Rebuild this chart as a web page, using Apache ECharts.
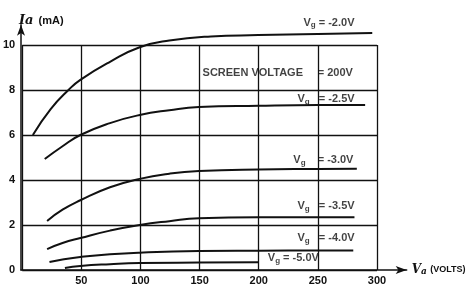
<!DOCTYPE html>
<html>
<head>
<meta charset="utf-8">
<script src="https://cdn.jsdelivr.net/npm/echarts@6/dist/echarts.min.js"></script>
<style>
  html, body { margin: 0; padding: 0; background: #fff; }
  #chart { width: 475px; height: 286px; }
</style>
</head>
<body>
<div id="chart"></div>
<script>
// anode current Ia (mA) against anode voltage Va (V), one curve per grid bias
var vg20 = [[10, 6.0], [25, 7.15], [40, 8.0], [50, 8.45], [75, 9.25], [100, 9.9], [125, 10.2], [160, 10.38], [200, 10.44], [250, 10.49], [296, 10.53]];
var vg25 = [[20, 4.93], [35, 5.5], [50, 6.0], [75, 6.53], [100, 6.89], [125, 7.1], [150, 7.24], [200, 7.3], [250, 7.33], [290, 7.33]];
var vg30 = [[22, 2.18], [35, 2.68], [50, 3.1], [75, 3.68], [100, 4.05], [125, 4.28], [150, 4.4], [200, 4.47], [250, 4.49], [283, 4.5]];
var vg35 = [[22, 0.93], [35, 1.2], [50, 1.42], [75, 1.75], [100, 2.0], [125, 2.17], [150, 2.3], [200, 2.35], [250, 2.35], [281, 2.35]];
var vg40 = [[24, 0.36], [35, 0.47], [50, 0.58], [75, 0.7], [100, 0.77], [150, 0.84], [200, 0.86], [250, 0.87], [280, 0.87]];
var vg50 = [[37, 0.09], [50, 0.18], [75, 0.26], [100, 0.31], [150, 0.33], [200, 0.34]];

var xTicks = [0, 50, 100, 150, 200, 250, 300];
var yTicks = [0, 2, 4, 6, 8, 10];

// text notes, [Va, Ia, text]
var notes = [
  [238, 11.0, '{v|V}{g|g} = -2.0V'],
  [233, 7.6, '{v|V}{g|g}'],
  [251, 7.6, '= -2.5V'],
  [229.5, 4.87, '{v|V}{g|g}'],
  [250, 4.87, '= -3.0V'],
  [233, 2.84, '{v|V}{g|g}'],
  [251, 2.84, '= -3.5V'],
  [233, 1.42, '{v|V}{g|g}'],
  [251, 1.42, '= -4.0V'],
  [208, 0.53, '{v|V}{g|g} = -5.0V'],
  [153, 8.76, 'SCREEN VOLTAGE'],
  [250, 8.76, '= 200V']
];

var L = 21, B = 16, W = 475, H = 286;
var pxV = 356 / 300, pxA = 22.5;
var xMax2 = 325, yMax2 = 10.9;

var font = '"Liberation Sans", Arial, sans-serif';
var ink = '#111';

var chart = echarts.init(document.getElementById('chart'));

var curves = [vg20, vg25, vg30, vg35, vg40, vg50].map(function (d) {
  return {
    type: 'line', xAxisIndex: 1, yAxisIndex: 1, data: d,
    smooth: true, showSymbol: false, silent: true,
    lineStyle: { color: ink, width: 2 }
  };
});

chart.setOption({
  animation: false,
  title: {
    text: '{i|Ia} {m|(mA)}',
    left: 14, top: 7,
    textStyle: {
      rich: {
        i: { fontFamily: '"DejaVu Serif", serif', fontStyle: 'italic', fontWeight: 'bold', fontSize: 13, color: ink },
        m: { fontFamily: font, fontWeight: 'bold', fontSize: 11, color: ink }
      }
    }
  },
  grid: [
    { left: L, bottom: B, right: W - (L + 300 * pxV), top: H - B - 10 * pxA },
    { left: L, bottom: B, right: W - (L + xMax2 * pxV), top: H - B - yMax2 * pxA }
  ],
  xAxis: [
    {
      gridIndex: 0, type: 'value', min: 0, max: 300, interval: 50,
      axisLine: { show: false }, axisTick: { show: false },
      splitLine: { show: true, lineStyle: { color: ink, width: 1.3 } },
      axisLabel: {
        margin: 5, color: ink, fontFamily: font, fontWeight: 'bold', fontSize: 11,
        formatter: function (v) { return v === 0 ? '' : v; }
      }
    },
    {
      gridIndex: 1, type: 'value', min: 0, max: xMax2,
      axisLine: { show: true, symbol: ['none', 'arrow'], symbolSize: [6, 11], lineStyle: { color: ink, width: 1.5 } },
      axisTick: { show: false }, axisLabel: { show: false }, splitLine: { show: false },
      name: '{i|V}{a|a} {m|(VOLTS)}', nameLocation: 'end', nameGap: 5,
      nameTextStyle: {
        rich: {
          i: { fontFamily: '"DejaVu Serif", serif', fontStyle: 'italic', fontWeight: 'bold', fontSize: 12, color: ink },
          a: { fontFamily: '"DejaVu Serif", serif', fontStyle: 'italic', fontWeight: 'bold', fontSize: 9, color: ink, padding: [4, 0, 0, 0] },
          m: { fontFamily: font, fontWeight: 'bold', fontSize: 9, color: ink }
        }
      }
    }
  ],
  yAxis: [
    {
      gridIndex: 0, type: 'value', min: 0, max: 10, interval: 2,
      axisLine: { show: false }, axisTick: { show: false },
      splitLine: { show: true, lineStyle: { color: ink, width: 1.3 } },
      axisLabel: { margin: 7, color: ink, fontFamily: font, fontWeight: 'bold', fontSize: 11 }
    },
    {
      gridIndex: 1, type: 'value', min: 0, max: yMax2,
      axisLine: { show: true, symbol: ['none', 'arrow'], symbolSize: [6, 11], lineStyle: { color: ink, width: 1.5 } },
      axisTick: { show: false }, axisLabel: { show: false }, splitLine: { show: false }
    }
  ],
  series: curves.concat([{
    type: 'scatter', xAxisIndex: 1, yAxisIndex: 1, clip: false, silent: true,
    symbolSize: 0, data: notes,
    label: {
      show: true, position: 'right', distance: 0,
      formatter: function (p) { return p.value[2]; },
      color: ink, fontFamily: font, fontWeight: 'bold', fontSize: 11,
      rich: {
        v: { fontFamily: font, fontWeight: 'bold', fontSize: 11, color: ink },
        g: { fontFamily: font, fontWeight: 'bold', fontSize: 8, color: ink, padding: [5, 0, 0, 0] }
      }
    }
  }])
});
</script>
</body>
</html>
